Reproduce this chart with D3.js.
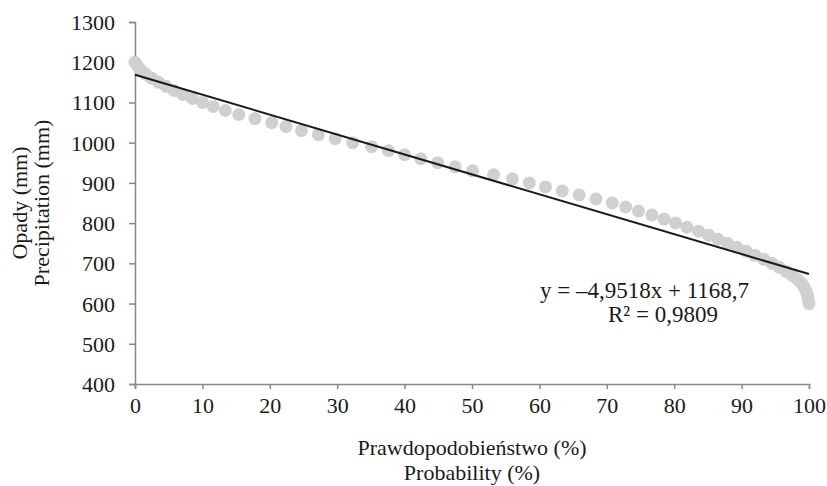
<!DOCTYPE html>
<html>
<head>
<meta charset="utf-8">
<script src="https://cdn.jsdelivr.net/npm/d3@7"></script>
<style>
  body { margin: 0; background: #fff; }
  text { font-family: "Liberation Serif", "Times New Roman", serif; fill: #1a1a1a; }
</style>
</head>
<body>
<div id="chart"></div>
<script>
// prawdopodobieństwo przewyższenia (%)
const probability = [
  0, 0.4, 0.9, 1.6, 2.5, 3.5, 4.6, 5.8, 7.1, 8.5,
  10.0, 11.6, 13.4, 15.4, 17.8, 20.3, 22.4, 24.7, 27.2, 29.7,
  32.3, 35.1, 37.6, 40.0, 42.4, 44.9, 47.5, 50.1, 53.2, 56.0,
  58.5, 60.9, 63.4, 65.9, 68.4, 70.8, 72.8, 74.7, 76.7, 78.5,
  80.2, 81.9, 83.6, 85.1, 86.5, 87.9, 89.3, 90.7, 92.0, 93.3,
  94.5, 95.6, 96.6, 97.5, 98.3, 98.9, 99.3, 99.6, 99.8, 99.9, 100
];
// opady (mm)
const precipitation = [
  1200, 1190, 1180, 1170, 1160, 1150, 1140, 1130, 1120, 1110,
  1100, 1090, 1080, 1070, 1060, 1050, 1040, 1030, 1020, 1010,
  1000, 990, 980, 970, 960, 950, 940, 930, 920, 910,
  900, 890, 880, 870, 860, 850, 840, 830, 820, 810,
  800, 790, 780, 770, 760, 750, 740, 730, 720, 710,
  700, 690, 680, 670, 660, 650, 640, 630, 620, 610, 600
];
const xTicks = [0, 10, 20, 30, 40, 50, 60, 70, 80, 90, 100];
const yTicks = [400, 500, 600, 700, 800, 900, 1000, 1100, 1200, 1300];
// linia trendu y = a*x + b
const trendSlope = -4.9518;
const trendIntercept = 1168.7;
const equationText = "y = \u20134,9518x + 1168,7";
const r2Text = "R\u00b2 = 0,9809";

const width = 827, height = 486;
const margin = {left: 135, right: 18, top: 22, bottom: 102};
const fontSize = 22;
const serif = '"Liberation Serif", "Times New Roman", serif';

const svg = d3.select("#chart").append("svg")
    .attr("width", width)
    .attr("height", height);

const x = d3.scaleLinear().domain([0, 100]).range([margin.left, width - margin.right]);
const y = d3.scaleLinear().domain([400, 1300]).range([height - margin.bottom, margin.top]);

// osie
const xAxis = svg.append("g")
    .attr("transform", "translate(0," + y(400) + ")")
    .call(d3.axisBottom(x).tickValues(xTicks).tickFormat(d3.format("d")).tickSize(5).tickPadding(8));
const yAxis = svg.append("g")
    .attr("transform", "translate(" + x(0) + ",0)")
    .call(d3.axisLeft(y).tickValues(yTicks).tickFormat(d3.format("d")).tickSize(6).tickPadding(14));

[xAxis, yAxis].forEach(a => {
    a.attr("font-family", serif).attr("font-size", fontSize);
    a.select(".domain").attr("stroke", "#888").attr("stroke-width", 1.5);
    a.selectAll(".tick line").attr("stroke", "#888").attr("stroke-width", 1.5);
    a.selectAll(".tick text").attr("fill", "#1a1a1a");
});
yAxis.selectAll(".tick text").attr("dy", "0.34em");

// punkty
const points = probability.map((p, i) => ({p: p, v: precipitation[i]}));
svg.append("g").selectAll("circle")
    .data(points).enter()
    .append("circle")
    .attr("cx", d => x(d.p))
    .attr("cy", d => y(d.v))
    .attr("r", 6.5)
    .attr("fill", "#d0d0d0");

// linia trendu
svg.append("line")
    .attr("x1", x(0)).attr("y1", y(trendIntercept))
    .attr("x2", x(100)).attr("y2", y(trendIntercept + trendSlope * 100))
    .attr("stroke", "#1a1a1a")
    .attr("stroke-width", 2);

// równanie
svg.append("text")
    .attr("x", 540).attr("y", 298)
    .style("font-size", "23px")
    .text(equationText);
svg.append("text")
    .attr("x", 608).attr("y", 322)
    .style("font-size", "23px")
    .text(r2Text);

// tytuły osi
const cx = (x(0) + x(100)) / 2;
svg.append("text")
    .attr("x", cx).attr("y", 455)
    .attr("text-anchor", "middle")
    .style("font-size", fontSize + "px")
    .text("Prawdopodobieństwo (%)");
svg.append("text")
    .attr("x", cx).attr("y", 480)
    .attr("text-anchor", "middle")
    .style("font-size", fontSize + "px")
    .text("Probability (%)");

const cy = (y(400) + y(1300)) / 2;
svg.append("text")
    .attr("transform", "translate(27," + cy + ") rotate(-90)")
    .attr("text-anchor", "middle")
    .style("font-size", fontSize + "px")
    .text("Opady (mm)");
svg.append("text")
    .attr("transform", "translate(49," + cy + ") rotate(-90)")
    .attr("text-anchor", "middle")
    .style("font-size", fontSize + "px")
    .text("Precipitation (mm)");
</script>
</body>
</html>
